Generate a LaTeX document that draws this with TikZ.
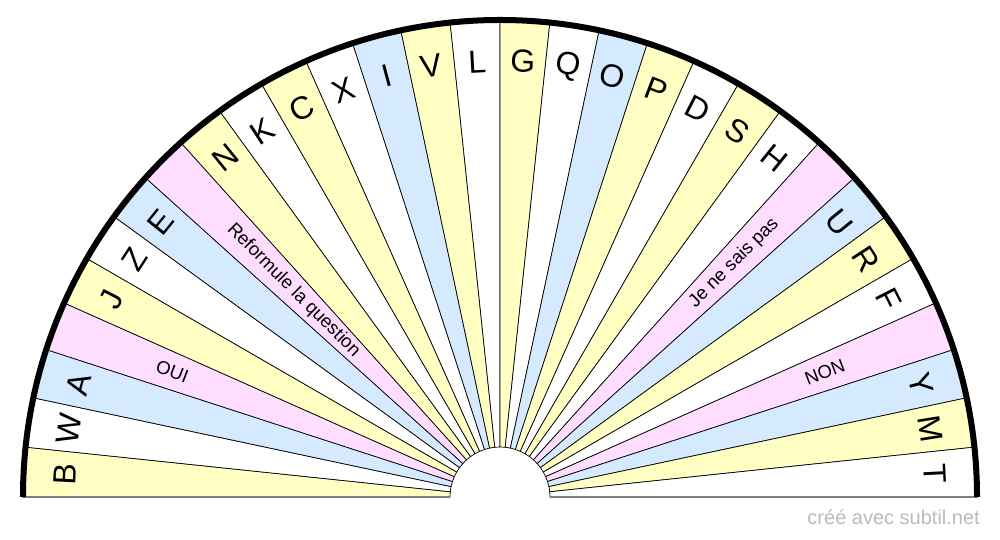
\documentclass[tikz,border=0pt]{standalone}
\usepackage{fontspec}
\setmainfont{Liberation Sans}
\definecolor{jaune}{HTML}{FFFFC4}
\definecolor{bleu}{HTML}{D6EAFF}
\definecolor{rose}{HTML}{FFDDFF}
\definecolor{gris}{HTML}{BBBBBB}
\begin{document}
\begin{tikzpicture}[x=1pt, y=1pt,
    lettre/.style={font=\fontsize{32}{32}\selectfont, inner sep=0pt},
    mot/.style={font=\fontsize{18.5}{18.5}\selectfont, inner sep=0pt}]
    \useasboundingbox (-500,-43) rectangle (500,497);

    % secteurs
    \foreach \c [count=\i] in {jaune,white,bleu,rose,jaune,white,bleu,rose,
        jaune,white,jaune,white,bleu,jaune,white,jaune,white,bleu,jaune,white,
        jaune,white,rose,bleu,jaune,white,rose,bleu,jaune,white} {
        \pgfmathsetmacro\a{180-6*\i}
        \draw[fill=\c, line width=0.7pt] (\a:50) -- (\a:477)
            arc (\a:\a+6:477) -- (\a+6:50) arc (\a+6:\a:50) -- cycle;
    }
    \draw[gray, line width=1.5pt] (-478,0) -- (-50,0);
    \draw[gray, line width=1.5pt] (50,0) -- (478,0);
    \draw[line width=6pt] (180:477) arc (180:0:477);

    % lettres
    \foreach \l/\i in {B/1, W/2, A/3, J/5, Z/6, E/7, N/9, K/10, C/11, X/12,
        I/13, V/14, L/15, G/16, Q/17, O/18, P/19, D/20, S/21, H/22, U/24,
        R/25, F/26, Y/28, M/29, T/30} {
        \pgfmathsetmacro\t{183-6*\i}
        \node[lettre, rotate=\t-90] (s\i) at (\t:436) {\l};
    }

    \node[mot, rotate=-21] (oui) at (159:351) {OUI};
    \node[mot, rotate=-45] (reformule) at (135:292) {Reformule la question};
    \node[mot, rotate=45] (jenesaispas) at (45:331) {Je ne sais pas};
    \node[mot, rotate=21] (non) at (21:348) {NON};

    \node[anchor=base east, text=gris, font=\fontsize{20}{20}\selectfont,
        inner sep=0pt] (credit) at (480,-28) {créé avec subtil.net};
\end{tikzpicture}
\end{document}
